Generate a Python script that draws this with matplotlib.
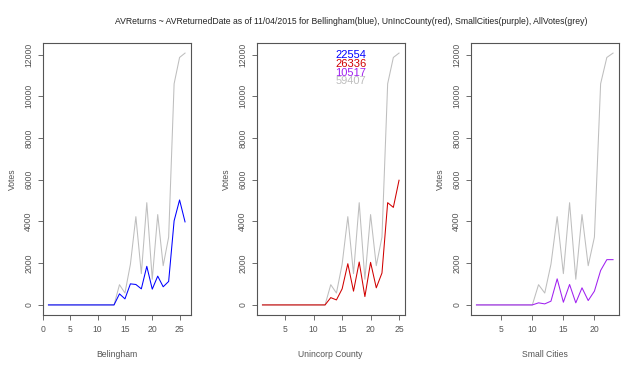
import matplotlib
matplotlib.use("Agg")
import matplotlib.pyplot as plt
import numpy as np

plt.rcParams["font.family"] = ["Liberation Sans", "DejaVu Sans"]

# AllVotes (grey) tail, same dates in every panel; leading zeros differ
all_votes_tail = [0, 970, 570, 1950, 4230, 1500, 4900, 1230, 4330, 1880, 3250, 10600, 11860, 12070]

bellingham = [0] * 12 + [0, 530, 290, 1010, 980, 770, 1850, 755, 1380, 870, 1125, 4030, 5030, 3980]
uninc = [0] * 11 + [0, 350, 240, 770, 1975, 660, 2056, 400, 2040, 820, 1530, 4900, 4675, 5976]
small = [0] * 9 + [0, 100, 50, 180, 1250, 130, 980, 100, 820, 210, 660, 1650, 2170, 2170]

panel_names = ["Belingham", "Unincorp County", "Small Cities"]
panel_series = [bellingham, uninc, small]
panel_colors = ["#0000ff", "#d00000", "#a020f0"]
totals = ["22554", "26336", "10517", "59407"]
total_colors = ["#0000ff", "#d00000", "#a020f0", "#bebebe"]
title = ("AVReturns ~ AVReturnedDate as of 11/04/2015 for Bellingham(blue), "
         "UnIncCounty(red), SmallCities(purple), AllVotes(grey)")

fig = plt.figure(figsize=(6.4, 3.69), dpi=100)
lefts = [43 / 640, 257 / 640, 471 / 640]
w = 147.5 / 640
bottom = 1 - 315 / 369
h = (315 - 43) / 369

tick_col = "#555555"
fs = 6.2
for i, (name, ser, col) in enumerate(zip(panel_names, panel_series, panel_colors)):
    ax = fig.add_axes([lefts[i], bottom, w, h])
    n = len(ser)
    x = np.arange(1, n + 1)
    grey = [0] * (n - len(all_votes_tail)) + all_votes_tail
    ax.plot(x, grey, color="#bebebe", lw=0.75)
    ax.plot(x, ser, color=col, lw=0.75)
    pad = 0.04 * (n - 1)
    ax.set_xlim(1 - pad, n + pad)
    ax.set_ylim(-0.04 * 12070, 12070 * 1.04)
    ax.set_yticks(np.arange(0, 12001, 2000))
    ax.set_yticklabels([str(v) for v in range(0, 12001, 2000)], rotation=90, va="center")
    xt = [t for t in range(0, 30, 5) if 1 - pad <= t <= n + pad]
    ax.set_xticks(xt)
    ax.tick_params(direction="out", length=3.5, width=0.6, labelsize=fs,
                   colors=tick_col, pad=3.5)
    for s in ax.spines.values():
        s.set_color("#555555")
        s.set_linewidth(0.8)
    ax.set_ylabel("Votes", fontsize=fs, color=tick_col, labelpad=5)
    ax.set_xlabel(name, fontsize=fs, color=tick_col, labelpad=12)
    if i == 1:
        for k, (t, c) in enumerate(zip(totals, total_colors)):
            ax.text(0.635, 0.955 - k * 0.032, t, color=c, fontsize=8,
                    transform=ax.transAxes, ha="center", va="center")

# fit the title to the width it takes in the original (x 115..588 px)
t = fig.text(115 / 640, 1 - 21 / 369, title, fontsize=6, ha="left", va="center", color="#222222")
fig.canvas.draw()
tw = t.get_window_extent().width
t.set_fontsize(6 * 473 / tw)

fig.savefig("out.png", dpi=100)
